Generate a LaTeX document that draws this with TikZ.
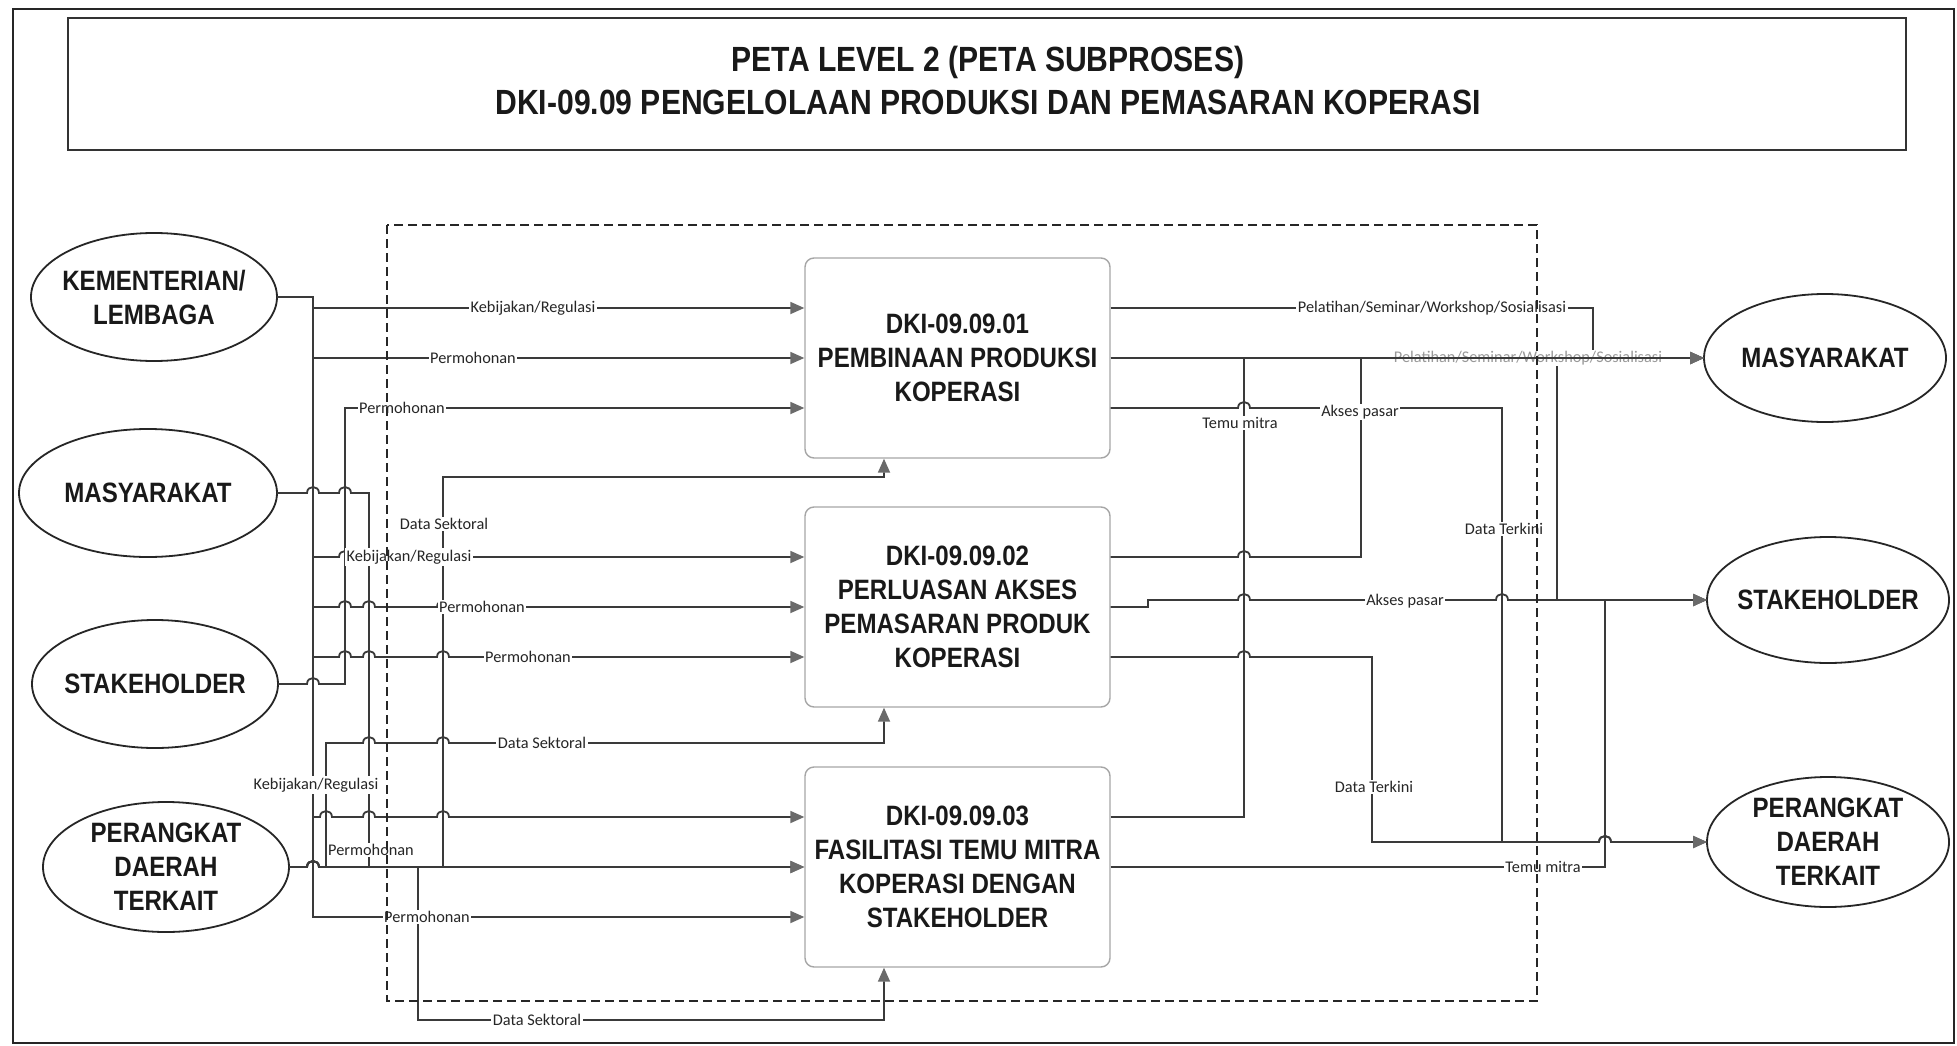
\documentclass[tikz,border=0pt]{standalone}
\usepackage{fontspec}
\usetikzlibrary{shapes.geometric,arrows.meta}
\newfontfamily\narrowfont{Liberation Sans}[FakeStretch=0.86]
\newfontfamily\labfont{Carlito}
\definecolor{linec}{HTML}{3A3A3A}
\definecolor{tipc}{HTML}{6A6A6A}
\begin{document}
\begin{tikzpicture}[x=1pt,y=-1pt,
  ent/.style={ellipse, draw=black!85, line width=1.8pt, inner sep=0pt, outer sep=0pt},
  entlab/.style={align=center, inner sep=0pt, text=black!90, font=\narrowfont\bfseries\fontsize{28}{34}\selectfont},
  proc/.style={rectangle, rounded corners=9pt, draw=black!35, line width=1.4pt, fill=white,
    minimum width=305pt, minimum height=200pt, inner sep=2pt, align=center, text=black!90,
    font=\narrowfont\bfseries\fontsize{28}{34}\selectfont},
  conn/.style={draw=linec, line width=1.8pt},
  arrowend/.style={-{Triangle[length=14pt,width=12pt,color=tipc]}},
  lab/.style={fill=white, inner sep=1.5pt, text=black!85, font=\labfont\fontsize{16.3}{19}\selectfont},
  hopover/.style args={#1/#2}{insert path={-- (#1-6,#2) .. controls (#1-6,#2-8) and (#1+6,#2-8) .. (#1+6,#2)}}
]
\useasboundingbox (0,0) rectangle (1957,1046);
\fill[white] (0,0) rectangle (1957,1046);

% frames
\draw[black!85, line width=2.5pt] (13,9) rectangle (1954,1043);
\node[draw=black!80, line width=1.6pt, minimum width=1838pt, minimum height=132pt, inner sep=0pt] (titlebox) at (987,84) {};
\node[align=center, text=black!90, font=\narrowfont\bfseries\fontsize{35}{43}\selectfont] (title) at (988,80)
  {PETA LEVEL 2 (PETA SUBPROSES)\\DKI-09.09 PENGELOLAAN PRODUKSI DAN PEMASARAN KOPERASI};

% entities left
\node[ent, minimum width=246pt, minimum height=128pt, label={[entlab]center:KEMENTERIAN/\\LEMBAGA}] (KL) at (154,297) {};
\node[ent, minimum width=258pt, minimum height=128pt, label={[entlab]center:MASYARAKAT}] (ML) at (148,493) {};
\node[ent, minimum width=246pt, minimum height=128pt, label={[entlab]center:STAKEHOLDER}] (SL) at (155,684) {};
\node[ent, minimum width=246pt, minimum height=130pt, label={[entlab]center:PERANGKAT\\DAERAH\\TERKAIT}] (PL) at (166,867) {};
% entities right
\node[ent, minimum width=242pt, minimum height=128pt, label={[entlab]center:MASYARAKAT}] (MR) at (1825,358) {};
\node[ent, minimum width=242pt, minimum height=126pt, label={[entlab]center:STAKEHOLDER}] (SR) at (1828,600) {};
\node[ent, minimum width=242pt, minimum height=130pt, label={[entlab]center:PERANGKAT\\DAERAH\\TERKAIT}] (PR) at (1828,842) {};

% process boxes
\node[proc] (b1) at (957.5,358) {DKI-09.09.01\\PEMBINAAN PRODUKSI\\KOPERASI};
\node[proc] (b2) at (957.5,607) {DKI-09.09.02\\PERLUASAN AKSES\\PEMASARAN PRODUK\\KOPERASI};
\node[proc] (b3) at (957.5,867) {DKI-09.09.03\\FASILITASI TEMU MITRA\\KOPERASI DENGAN\\STAKEHOLDER};

% ---------- left connectors ----------
% KEMENTERIAN/LEMBAGA bus
\draw[conn,arrowend] (KL.east) -- (313,297) -- (313,308) -- ([yshift=50pt]b1.west);
\draw[conn,arrowend] (KL.east) -- (313,297) -- (313,358) -- (b1.west);
\draw[conn,arrowend] (KL.east) -- (313,297) -- (313,557) [hopover=345/557] [hopover=369/557] [hopover=443/557] -- ([yshift=50pt]b2.west);
\draw[conn,arrowend] (KL.east) -- (313,297) -- (313,607) [hopover=345/607] [hopover=369/607] [hopover=443/607] -- (b2.west);
\draw[conn,arrowend] (KL.east) -- (313,297) -- (313,657) [hopover=345/657] [hopover=369/657] [hopover=443/657] -- ([yshift=-50pt]b2.west);
\draw[conn,arrowend] (KL.east) -- (313,297) -- (313,817) [hopover=326/817] [hopover=369/817] [hopover=443/817] -- ([yshift=50pt]b3.west);
\draw[conn,arrowend] (KL.east) -- (313,297) -- (313,917) -- ([yshift=-50pt]b3.west);
% STAKEHOLDER
\draw[conn,arrowend] (SL.east) [hopover=313/684] -- (345,684) -- (345,408) -- ([yshift=-50pt]b1.west);
% MASYARAKAT
\draw[conn,arrowend] (ML.east) [hopover=313/493] [hopover=345/493] -- (369,493) -- (369,867) -- (b3.west);
% PERANGKAT DAERAH TERKAIT
\draw[conn,arrowend] (PL.east) [hopover=313/867] -- (b3.west);
\draw[conn,arrowend] (PL.east) [hopover=313/867] -- (326,867) -- (326,743) [hopover=369/743] [hopover=443/743] -- (884,743) -- ([xshift=-73.5pt]b2.south);
\draw[conn,arrowend] (PL.east) [hopover=313/867] -- (443,867) -- (443,477) -- (884,477) -- ([xshift=-73.5pt]b1.south);
\draw[conn,arrowend] (PL.east) [hopover=313/867] -- (418,867) -- (418,1020) -- (884,1020) -- ([xshift=-73.5pt]b3.south);

% ---------- right connectors ----------
\draw[conn,arrowend] ([yshift=50pt]b1.east) -- (1593,308) -- (1593,358) -- (MR.west);
\draw[conn,arrowend] (b1.east) -- (1557,358) -- (1557,600) -- (SR.west);
\draw[conn,arrowend] ([yshift=50pt]b3.east) -- (1244,817) -- (1244,358) -- (MR.west);
\draw[conn,arrowend] ([yshift=50pt]b2.east) [hopover=1244/557] -- (1361,557) -- (1361,358) -- (MR.west);
\draw[conn,arrowend] ([yshift=-50pt]b1.east) [hopover=1244/408] -- (1502,408) -- (1502,842) [hopover=1605/842] -- (PR.west);
\draw[conn,arrowend] (b2.east) -- (1148,607) -- (1148,600) [hopover=1244/600] [hopover=1502/600] -- (SR.west);
\draw[conn,arrowend] ([yshift=-50pt]b2.east) [hopover=1244/657] -- (1372,657) -- (1372,842) [hopover=1605/842] -- (PR.west);
\draw[conn,arrowend] (b3.east) -- (1605,867) -- (1605,600) -- (SR.west);

% gray overlapped label, then the line over it
\node[lab, text=black!40] (pel2) at (1528,358) {Pelatihan/Seminar/Workshop/Sosialisasi};
\draw[conn,arrowend] (b1.east) -- (MR.west);

% ---------- labels ----------
\node[lab] (l1) at (533,308) {Kebijakan/Regulasi};
\node[lab] (l2) at (473,358) {Permohonan};
\node[lab] (l3) at (402,408) {Permohonan};
\node[lab] (l4) at (409,557) {Kebijakan/Regulasi};
\node[lab] (l5) at (482,607) {Permohonan};
\node[lab] (l6) at (528,657) {Permohonan};
\node[lab] (l7) at (444,524) {Data Sektoral};
\node[lab] (l8) at (542,743) {Data Sektoral};
\node[lab] (l9) at (316,785) {Kebijakan/Regulasi};
\node[lab] (l10) at (371,850) {Permohonan};
\node[lab] (l11) at (427,917) {Permohonan};
\node[lab] (l12) at (537,1020) {Data Sektoral};
\node[lab] (r1) at (1432,308) {Pelatihan/Seminar/Workshop/Sosialisasi};
\node[lab] (r2) at (1240,423) {Temu mitra};
\node[lab] (r3) at (1360,412) {Akses pasar};
\node[lab] (r4) at (1504,529) {Data Terkini};
\node[lab] (r5) at (1405,601) {Akses pasar};
\node[lab] (r6) at (1374,787) {Data Terkini};
\node[lab] (r7) at (1543,867) {Temu mitra};

% dashed boundary
\draw[black!85, line width=1.5pt, dash pattern=on 9pt off 5pt] (387,225) rectangle (1537,1001);
\end{tikzpicture}
\end{document}
